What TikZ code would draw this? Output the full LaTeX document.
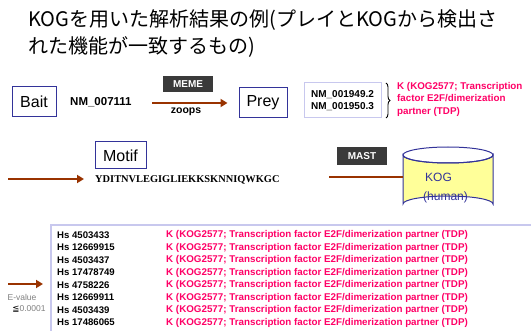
\documentclass[tikz,border=0pt]{standalone}
\usepackage{fontspec}
\setmainfont{Liberation Sans}
\newfontfamily\cjkfont{Noto Sans CJK JP}
\newfontfamily\seqfont{Liberation Serif}
\newfontfamily\symfont{DejaVu Sans}
\usetikzlibrary{arrows.meta,decorations.pathreplacing}
\definecolor{brn}{HTML}{993300}
\definecolor{rd}{HTML}{FF0066}
\definecolor{navy}{HTML}{333399}
\definecolor{lav}{HTML}{C8C8EE}
\definecolor{cylfill}{HTML}{FFFF99}
\definecolor{tagfill}{HTML}{3A3A3A}
\tikzset{
  lbl/.style={draw=navy, line width=1pt, inner sep=0pt, minimum height=30pt, font=\fontsize{16}{18}\selectfont},
  arr/.style={draw=brn, line width=2.6pt, -{Triangle[length=7pt,width=8pt]}},
  tag/.style={fill=tagfill, text=white, inner sep=0pt, minimum width=50pt, minimum height=16pt, font=\bfseries\fontsize{10}{11}\selectfont},
  idtxt/.style={anchor=west, inner sep=0pt, font=\bfseries\fontsize{9.6}{10}\selectfont},
  redtxt/.style={anchor=west, inner sep=0pt, text=rd, font=\bfseries\fontsize{9.8}{10}\selectfont}
}
\begin{document}
\begin{tikzpicture}[x=1pt,y=-1pt]
\useasboundingbox (0,0) rectangle (531,331);
% title
\node[anchor=west, inner sep=0pt, font=\cjkfont\fontsize{20}{24}\selectfont] (t1) at (28,20) {KOGを用いた解析結果の例(プレイとKOGから検出さ};
\node[anchor=west, inner sep=0pt, font=\cjkfont\fontsize{20}{24}\selectfont] (t2) at (28,47) {れた機能が一致するもの)};
% bait -> prey
\node[lbl, minimum width=44pt] (bait) at (34,102) {Bait};
\node[anchor=west, inner sep=0pt, font=\bfseries\fontsize{11.5}{12}\selectfont] (nm) at (70,102) {NM\_007111};
\node[lbl, minimum width=48pt] (prey) at (263,102.5) {Prey};
\coordinate (a1s) at (152,103);
\draw[arr, shorten >=11pt] (a1s) -- (a1s -| prey.west);
\node[tag] (meme) at (188,84.5) {MEME};
\node[inner sep=0pt, font=\bfseries\fontsize{10.5}{11}\selectfont] (zoops) at (186,112) {zoops};
\node[draw=lav, line width=1pt, minimum width=77pt, minimum height=35pt, inner sep=0pt, align=left, font=\bfseries\fontsize{10}{12}\selectfont] (nmbox) at (342.5,100.5) {NM\_001949.2\\NM\_001950.3};
\draw[line width=0.9pt, decorate, decoration={brace, amplitude=4pt}] (386,83) -- (386,118);
\node[anchor=north west, inner sep=0pt, text=rd, align=left, font=\bfseries\fontsize{9.8}{12.5}\selectfont] (kogdesc) at (397,82) {K (KOG2577; Transcription\\factor E2F/dimerization\\partner (TDP)};
% motif
\node[lbl, minimum width=51pt, minimum height=27pt] (motif) at (120.5,155.5) {Motif};
\node[anchor=west, inner sep=0pt, font=\seqfont\bfseries\fontsize{10.4}{11}\selectfont] (seq) at (95,180) {YDITNVLEGIGLIEKKSKNNIQWKGC};
\coordinate (m0) at (8,179);
\draw[arr, shorten >=11pt] (m0) -- (m0 -| seq.west);
% MAST -> KOG
\node[tag, minimum height=18pt] (mast) at (362,156) {MAST};
\node[minimum width=90pt, minimum height=65pt, inner sep=0pt] (kog) at (448,179.5) {};
\draw[navy, fill=cylfill, line width=1pt] (403,155) -- (403,204) arc[start angle=180, end angle=360, x radius=45, y radius=8] -- (493,155) arc[start angle=0, end angle=180, x radius=45, y radius=8] -- cycle;
\draw[navy, line width=1pt] (448,155) ellipse [x radius=45, y radius=8];
\node[anchor=west, inner sep=0pt, text=navy, align=left, font=\fontsize{12}{19}\selectfont] (kogtxt) at (423,188) {\,KOG\\(human)};
\coordinate (l0) at (329,177);
\draw[brn, line width=2.6pt] (l0) -- (l0 -| kog.west);
% results
\draw[lav, line width=1.5pt] (51,340) -- (51,225) -- (540,225);
\foreach \id [count=\i] in {4503433,12669915,4503437,17478749,4758226,12669911,4503439,17486065}{
  \node[idtxt] (id\i) at (57,222.5+12.5*\i) {Hs \id};
  \node[redtxt] (desc\i) at (166,222.5+12.5*\i) {K (KOG2577; Transcription factor E2F/dimerization partner (TDP)};
}
\coordinate (e0) at (8,284);
\draw[arr, shorten >=14pt] (e0) -- (e0 -| id5.west);
\node[inner sep=0pt, text=gray, font=\fontsize{8.5}{9}\selectfont] (ev) at (22,297) {E-value};
\node[inner sep=0pt, text=gray, font=\fontsize{8.5}{9}\selectfont] (evt) at (29,309) {{\symfont\color{black}≦}0.0001};
\end{tikzpicture}
\end{document}
